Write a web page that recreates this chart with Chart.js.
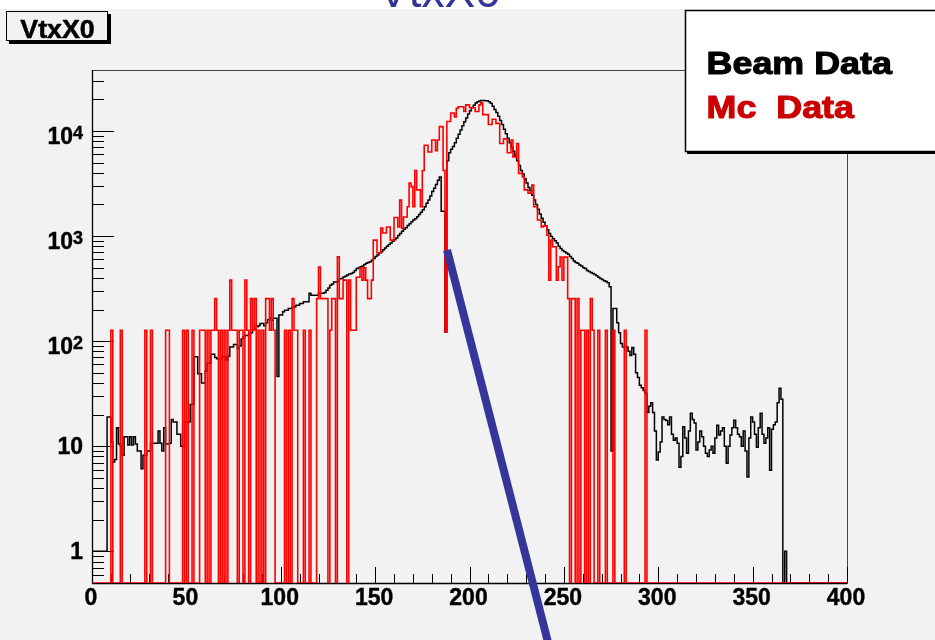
<!DOCTYPE html>
<html>
<head>
<meta charset="utf-8">
<style>
html,body{margin:0;padding:0;background:#f2f2f2;overflow:hidden;}
#wrap{width:935px;height:640px;position:relative;}
canvas{display:block;}
</style>
<script src="https://cdn.jsdelivr.net/npm/chart.js@4/dist/chart.umd.min.js"></script>
</head>
<body>
<div id="wrap"><canvas id="c" width="935" height="640"></canvas></div>
<script>
// ---- axis definition (histogram 400 bins, 0..400) ----
const X_MIN = 0, X_MAX = 400, BIN_WIDTH = 1;
const Y_MIN = 0.5, Y_MAX = 38000;
const X_TICKS = [0, 50, 100, 150, 200, 250, 300, 350, 400];
const X_TICK_LABELS = ['0', '50', '100', '150', '200', '250', '300', '350', '400'];
const X_MINOR_STEP = 10;
const Y_TICKS = [1, 10, 100, 1000, 10000];
const Y_TICK_BASE = ['1', '10', '10', '10', '10'];
const Y_TICK_EXP = ['', '', '2', '3', '4'];
const SERIES_LABELS = ['Beam Data', 'Mc  Data'];
const HIST_TITLE = 'VtxX0';
const PAGE_TITLE = 'VtxX0';
// annotation line (data coordinates)
const ARROW_X = [188.1, 242.4];
const ARROW_Y = [736, 0.12];

// ---- Beam Data: counts per bin ----
const BEAM = [
  1,1,1,1,1,1,1,1,19,19,
  11,7.1,7.5,15,10.5,10,8.2,12.3,12.3,10.3,
  12.3,10.3,12.3,10.5,9,9,6.1,8.2,8.2,9,
  9,10.7,10.7,10.7,10.7,14,10.7,9,15,10.5,
  10.5,10.7,18,17,17,13,13,10,10,17,
  17,17,25,25,71,71,49,49,40,40,
  52,62,62,75,75,70,68,68,68,71,
  71,66,72,88,88,93,93,85,90,105,
  110,113,113,118,120,127,130,137,140,147,
  147,140,150,160,165,158,165,165,46,177,
  177,190,197,197,204,204,211,211,220,220,
  228,228,237,237,237,285,273,273,273,273,
  285,285,285,290,305,320,340,350,366,366,
  370,392,395,407,415,425,435,440,450,470,
  490,500,510,520,535,550,560,570,590,610,
  640,660,690,710,740,770,800,830,860,890,
  920,960,1010,1060,1110,1160,1200,1260,1310,1370,
  1420,1460,1530,1600,1680,1780,1900,2050,2200,2400,
  2650,2850,3100,3400,3650,1720,1720,122,5200,6200,
  6700,7100,7700,8500,9300,10200,11200,12200,13300,14500,
  15600,16700,17600,18400,19000,19300,19500,19500,19400,19400,
  19000,18300,17200,16000,15000,13800,12600,11500,10400,9400,
  8500,7700,7000,6400,5800,5200,4700,4200,3900,3500,
  3200,2900,2700,2450,2200,2000,1800,1620,1480,1350,
  1250,1150,1060,990,940,900,860,800,760,730,
  710,690,670,640,610,580,560,550,530,520,
  500,490,470,460,450,440,430,420,405,395,
  385,375,370,360,330,9,205,205,150,120,
  95,88,88,88,80,73,87,75,50,45,
  38,36,34,32,21,24,26,21,14,7.4,
  8.8,11,19,18,17.6,16,19,13,11.4,12,
  10.7,6.3,8,15.3,12,8.6,14,20.6,18,16.6,
  9.2,11,14,12.3,10,8.6,8,9.2,10,8.6,
  12,15.8,12.8,14,15,10,6.9,10,12.8,15,
  17.7,15,13,12.3,10,14,9,5.1,12,19,
  17,13,9.8,15,20.6,13,10.7,12,15,5.9,
  14.5,16,17,26,35.6,28,0,1,0,0,
  0,0,0,0,0,0,0,0,0,0,
  0,0,0,0,0,0,0,0,0,0,
  0,0,0,0,0,0,0,0,0,0
];

// ---- Mc Data: weighted counts per bin ----
const MC = [
  0,0,0,0,0,0,0,0,0,0,
  127,0,0,0,0,127,0,0,0,0,
  0,0,0,0,0,0,0,0,127,0,
  0,127,0,0,0,0,0,0,0,127,
  127,0,0,0,0,0,0,0,127,0,
  127,0,0,127,0,0,0,127,127,127,
  0,127,0,127,127,254,127,0,127,0,
  127,0,127,381,127,127,127,0,127,127,
  0,381,127,0,254,127,254,0,127,0,
  127,0,254,254,127,254,127,0,0,0,
  0,0,127,0,127,0,254,127,127,0,
  0,0,127,0,0,127,0,0,0,254,
  508,254,254,254,254,0,127,254,254,0,
  635,254,254,381,381,0,381,127,127,127,
  405,405,500,381,500,381,254,254,381,915,
  915,690,690,1190,1070,1070,1220,1220,915,915,
  1500,1500,1220,2200,1190,1520,1520,1900,3200,2950,
  1900,4200,2750,2750,1900,4200,7300,7300,6300,6300,
  8200,8200,6500,8200,11000,11000,4200,122,12300,12300,
  14800,14800,13600,16400,17000,17000,17000,15300,17700,17700,
  16600,16600,16600,15300,15300,17700,18500,14300,14300,14300,
  11500,11500,12900,12900,11800,11800,7600,7600,8400,8400,
  6200,6200,8200,5660,5660,7600,3950,3950,3650,2750,
  2750,2560,2560,3050,1900,1900,1420,1420,1220,1250,
  1250,1020,380,915,790,790,380,510,630,380,
  630,630,254,0,254,254,0,254,0,127,
  127,0,127,0,254,127,0,0,127,0,
  0,0,127,0,0,0,127,0,0,0,
  0,0,127,0,0,0,0,0,0,0,
  0,0,0,127,0,0,0,0,0,0,
  0,0,0,0,0,0,0,0,0,0,
  0,0,0,0,0,0,0,0,0,0,
  0,0,0,0,0,0,0,0,0,0,
  0,0,0,0,0,0,0,0,0,0,
  0,0,0,0,0,0,0,0,0,0,
  0,0,0,0,0,0,0,0,0,0,
  0,0,0,0,0,0,0,0,0,0,
  0,0,0,0,0,0,0,0,0,0,
  0,0,0,0,0,0,0,0,0,0,
  0,0,0,0,0,0,0,0,0,0
];

// ---- styles ----
const PAD_COLOR = '#f2f2f2';
const SERIES_COLORS = ['#000000', '#ff0000'];
const LEGEND_TEXT_COLORS = ['#000000', '#cc0000'];
const ARROW_COLOR = '#35359a';
const FONT = '"Liberation Sans", Arial, Helvetica, sans-serif';

// histogram outline points: left bin edges, empty bins drawn on the frame floor
function histPoints(values) {
  const pts = [{x: X_MIN, y: Y_MIN}];
  values.forEach((v, i) => pts.push({x: X_MIN + i * BIN_WIDTH, y: v > 0 ? v : Y_MIN}));
  const last = values[values.length - 1];
  pts.push({x: X_MIN + values.length * BIN_WIDTH, y: last > 0 ? last : Y_MIN});
  pts.push({x: X_MIN + values.length * BIN_WIDTH, y: Y_MIN});
  return pts;
}

function boldText(ctx, text, x, y, sx, strokeW) {
  ctx.save();
  ctx.translate(x, y);
  ctx.scale(sx, 1);
  ctx.fillText(text, 0, 0);
  if (strokeW > 0) {
    ctx.lineWidth = strokeW;
    ctx.strokeStyle = ctx.fillStyle;
    ctx.lineJoin = 'round';
    ctx.strokeText(text, 0, 0);
  }
  ctx.restore();
}

const rootStyle = {
  id: 'rootStyle',
  beforeDraw(chart) {
    const {ctx, width, height} = chart;
    ctx.save();
    ctx.fillStyle = PAD_COLOR;
    ctx.fillRect(0, 0, width, height);
    ctx.fillStyle = '#ffffff';
    ctx.fillRect(0, 0, width, 9);
    ctx.beginPath();
    ctx.rect(0, 0, width, 9);
    ctx.clip();
    ctx.fillStyle = '#333399';
    ctx.font = '46px ' + FONT;
    ctx.textAlign = 'left';
    ctx.textBaseline = 'alphabetic';
    ctx.fillText(PAGE_TITLE, 378, 6.5);
    ctx.restore();
  },
  beforeDatasetsDraw(chart) {
    const {ctx, chartArea: a, scales: {x, y}} = chart;
    ctx.save();
    // frame
    ctx.strokeStyle = '#444444';
    ctx.lineWidth = 1;
    ctx.strokeRect(a.left + 0.5, a.top + 0.5, a.right - a.left, a.bottom - a.top);
    // y ticks (inward)
    ctx.strokeStyle = '#000000';
    ctx.beginPath();
    for (let e = -1; e <= 5; e++) {
      for (let k = 1; k <= 9; k++) {
        const v = k * Math.pow(10, e);
        if (v < Y_MIN * 1.001 || v > Y_MAX) continue;
        const py = Math.round(y.getPixelForValue(v)) + 0.5;
        const len = k === 1 ? 22 : 12;
        ctx.moveTo(a.left, py);
        ctx.lineTo(a.left + len, py);
      }
    }
    // x ticks (inward)
    for (let v = X_MIN; v <= X_MAX; v += X_MINOR_STEP) {
      const px = Math.round(x.getPixelForValue(v)) + 0.5;
      const len = X_TICKS.includes(v) ? 16 : 9;
      ctx.moveTo(px, a.bottom);
      ctx.lineTo(px, a.bottom - len);
    }
    ctx.stroke();
    // axis lines
    ctx.lineWidth = 1.3;
    ctx.beginPath();
    ctx.moveTo(a.left + 0.5, a.top);
    ctx.lineTo(a.left + 0.5, a.bottom + 0.5);
    ctx.lineTo(a.right, a.bottom + 0.5);
    ctx.stroke();
    ctx.restore();
  },
  afterDraw(chart) {
    const {ctx, chartArea: a, scales: {x, y}} = chart;
    ctx.save();
    ctx.fillStyle = '#000000';
    ctx.textBaseline = 'alphabetic';
    // x labels
    ctx.font = 'bold 23px ' + FONT;
    ctx.textAlign = 'center';
    X_TICKS.forEach((v, i) => {
      boldText(ctx, X_TICK_LABELS[i], x.getPixelForValue(v) - 1, a.bottom + 22, 1, 0.4);
    });
    // y labels
    const right = a.left - 9;
    Y_TICKS.forEach((v, i) => {
      const py = y.getPixelForValue(v);
      ctx.textAlign = 'right';
      if (Y_TICK_EXP[i]) {
        ctx.font = 'bold 18px ' + FONT;
        boldText(ctx, Y_TICK_EXP[i], right, py + 7.6, 1, 0.4);
        const w = ctx.measureText(Y_TICK_EXP[i]).width;
        ctx.font = 'bold 23px ' + FONT;
        boldText(ctx, Y_TICK_BASE[i], right - w, py + 12.6, 1, 0.4);
      } else {
        ctx.font = 'bold 23px ' + FONT;
        boldText(ctx, Y_TICK_BASE[i], right, py + 8, 1, 0.4);
      }
    });
    // histogram title box
    ctx.fillStyle = '#000000';
    ctx.fillRect(9, 14, 102, 30);
    ctx.fillStyle = PAD_COLOR;
    ctx.fillRect(6, 11, 102, 30);
    ctx.strokeStyle = '#000000';
    ctx.lineWidth = 1;
    ctx.strokeRect(6.5, 11.5, 101, 29);
    ctx.fillStyle = '#000000';
    ctx.font = 'bold 25px ' + FONT;
    ctx.textAlign = 'center';
    boldText(ctx, HIST_TITLE, 57.5, 38.3, 1.07, 0.5);
    // legend box
    ctx.fillStyle = '#000000';
    ctx.fillRect(687, 12, 260, 142);
    ctx.fillStyle = '#ffffff';
    ctx.fillRect(685, 10, 260, 142);
    ctx.strokeStyle = '#000000';
    ctx.lineWidth = 1.5;
    ctx.strokeRect(685.5, 10.5, 260, 141);
    ctx.font = 'bold 32px ' + FONT;
    ctx.textAlign = 'left';
    const baselines = [74, 117.5];
    chart.data.datasets.forEach((ds, i) => {
      ctx.fillStyle = LEGEND_TEXT_COLORS[i];
      boldText(ctx, ds.label, 706.6, baselines[i], 1.12, 1.1);
    });
    // annotation line
    ctx.strokeStyle = ARROW_COLOR;
    ctx.lineWidth = 8;
    ctx.lineCap = 'butt';
    ctx.beginPath();
    ctx.moveTo(x.getPixelForValue(ARROW_X[0]), y.getPixelForValue(ARROW_Y[0]));
    ctx.lineTo(x.getPixelForValue(ARROW_X[1]), y.getPixelForValue(ARROW_Y[1]));
    ctx.stroke();
    ctx.restore();
  }
};

new Chart(document.getElementById('c'), {
  type: 'line',
  data: {
    datasets: [
      {
        label: SERIES_LABELS[0],
        data: histPoints(BEAM),
        borderColor: SERIES_COLORS[0],
        borderWidth: 1.5,
        stepped: true,
        pointRadius: 0,
        fill: false,
        borderJoinStyle: 'miter',
        order: 2
      },
      {
        label: SERIES_LABELS[1],
        data: histPoints(MC),
        borderColor: SERIES_COLORS[1],
        borderWidth: 1.6,
        stepped: true,
        pointRadius: 0,
        fill: false,
        borderJoinStyle: 'miter',
        order: 1
      }
    ]
  },
  options: {
    responsive: false,
    animation: false,
    devicePixelRatio: 1,
    layout: {padding: {left: 92, top: 70, right: 88, bottom: 57}},
    scales: {
      x: {type: 'linear', min: X_MIN, max: X_MAX, display: false},
      y: {type: 'logarithmic', min: Y_MIN, max: Y_MAX, display: false}
    },
    plugins: {
      legend: {display: false},
      tooltip: {enabled: false}
    },
    events: []
  },
  plugins: [rootStyle]
});
</script>
</body>
</html>
